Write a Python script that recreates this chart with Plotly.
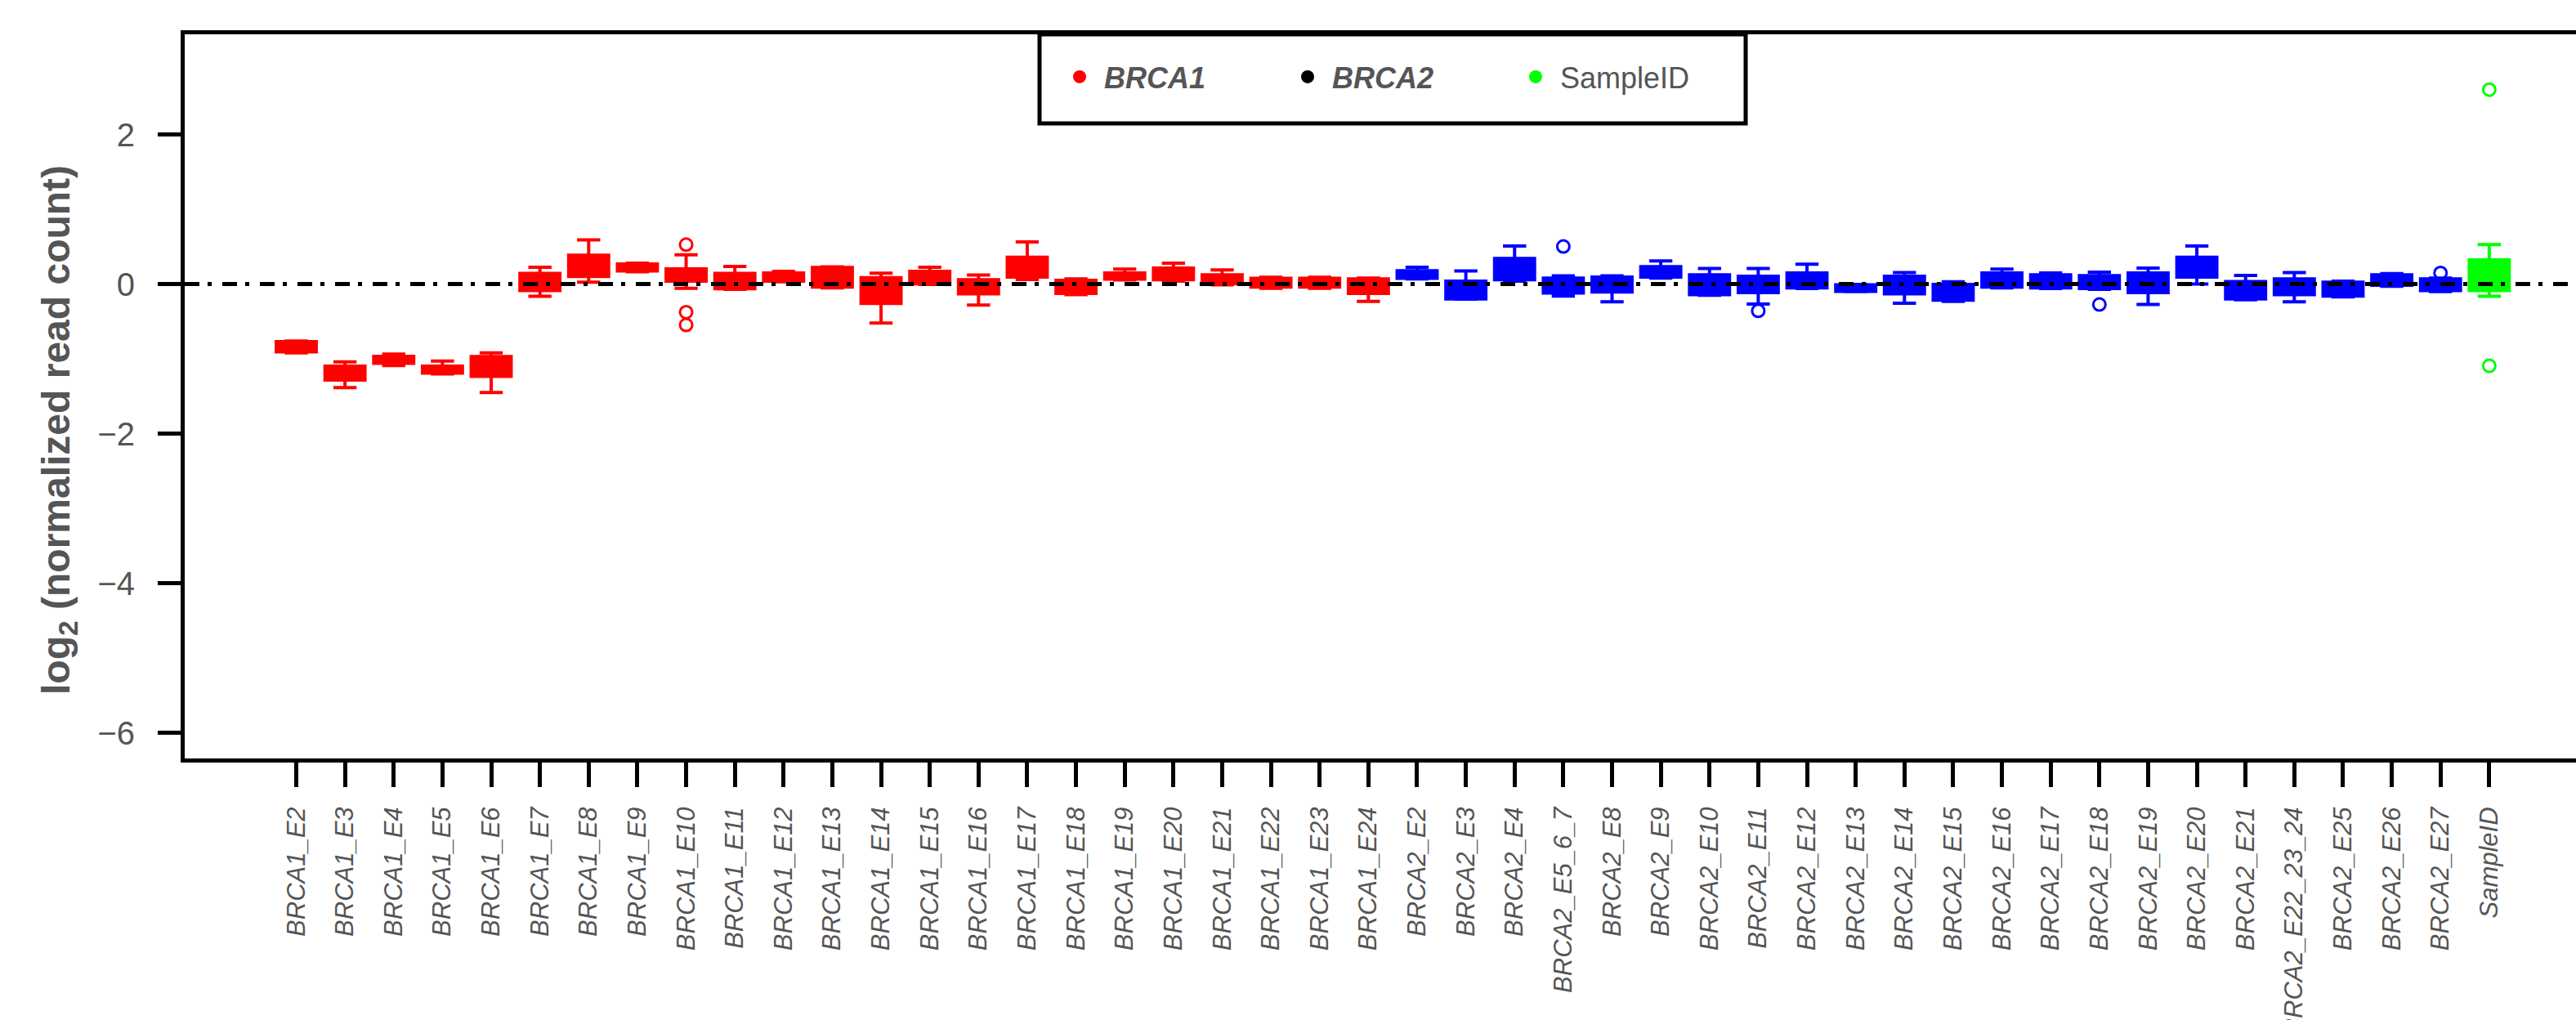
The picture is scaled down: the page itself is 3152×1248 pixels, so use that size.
import plotly.graph_objects as go

# ---------------- data ----------------
brca1_cats = ["BRCA1_E2", "BRCA1_E3", "BRCA1_E4", "BRCA1_E5", "BRCA1_E6", "BRCA1_E7",
              "BRCA1_E8", "BRCA1_E9", "BRCA1_E10", "BRCA1_E11", "BRCA1_E12", "BRCA1_E13",
              "BRCA1_E14", "BRCA1_E15", "BRCA1_E16", "BRCA1_E17", "BRCA1_E18", "BRCA1_E19",
              "BRCA1_E20", "BRCA1_E21", "BRCA1_E22", "BRCA1_E23", "BRCA1_E24"]
brca1_lf = [-0.92, -1.384, -1.09, -1.20, -1.45, -0.164, 0.026, 0.165, -0.055, -0.07, 0.03, -0.05,
            -0.521, -0.005, -0.28, 0.06, -0.14, 0.055, 0.04, -0.01, -0.055, -0.055, -0.23]
brca1_q1 = [-0.907, -1.282, -1.06, -1.19, -1.235, -0.087, 0.102, 0.175, 0.04, -0.062, 0.04, -0.04,
            -0.259, 0.004, -0.131, 0.095, -0.124, 0.066, 0.058, 0.004, -0.04, -0.04, -0.124]
brca1_med = [-0.84, -1.20, -1.01, -1.14, -1.10, 0.03, 0.25, 0.22, 0.12, 0.05, 0.09, 0.08,
             -0.10, 0.09, -0.04, 0.22, -0.03, 0.11, 0.14, 0.06, 0.02, 0.02, -0.03]
brca1_q3 = [-0.769, -1.097, -0.965, -1.097, -0.969, 0.142, 0.386, 0.27, 0.204, 0.142, 0.149, 0.222,
            0.087, 0.171, 0.058, 0.36, 0.051, 0.149, 0.215, 0.124, 0.077, 0.077, 0.069]
brca1_uf = [-0.76, -1.04, -0.935, -1.03, -0.92, 0.226, 0.59, 0.28, 0.393, 0.237, 0.17, 0.23,
            0.146, 0.226, 0.12, 0.565, 0.07, 0.20, 0.28, 0.19, 0.09, 0.09, 0.08]
brca1_out_x = ["BRCA1_E10", "BRCA1_E10", "BRCA1_E10"]
brca1_out_y = [0.528, -0.375, -0.546]

brca2_cats = ["BRCA2_E2", "BRCA2_E3", "BRCA2_E4", "BRCA2_E5_6_7", "BRCA2_E8", "BRCA2_E9",
              "BRCA2_E10", "BRCA2_E11", "BRCA2_E12", "BRCA2_E13", "BRCA2_E14", "BRCA2_E15",
              "BRCA2_E16", "BRCA2_E17", "BRCA2_E18", "BRCA2_E19", "BRCA2_E20", "BRCA2_E21",
              "BRCA2_E22_23_24", "BRCA2_E25", "BRCA2_E26", "BRCA2_E27"]
brca2_lf = [0.07, -0.20, 0.04, -0.16, -0.237, 0.08, -0.15, -0.266, -0.06, -0.10, -0.255,
            -0.23, -0.05, -0.06, -0.07, -0.273, 0.0, -0.21, -0.237, -0.17, -0.03, -0.10]
brca2_q1 = [0.077, -0.197, 0.058, -0.12, -0.106, 0.095, -0.142, -0.113, -0.051, -0.098, -0.131,
            -0.215, -0.04, -0.051, -0.058, -0.113, 0.095, -0.197, -0.142, -0.16, -0.015, -0.087]
brca2_med = [0.13, -0.05, 0.18, -0.02, 0.0, 0.16, 0.0, 0.0, 0.05, -0.05, -0.01,
             -0.10, 0.07, 0.05, 0.03, 0.02, 0.22, -0.07, -0.03, -0.07, 0.06, 0.0]
brca2_q3 = [0.179, 0.04, 0.342, 0.08, 0.095, 0.233, 0.124, 0.106, 0.149, -0.011, 0.106,
            -0.004, 0.149, 0.124, 0.113, 0.149, 0.36, 0.033, 0.069, 0.026, 0.124, 0.069]
brca2_uf = [0.226, 0.175, 0.51, 0.11, 0.11, 0.31, 0.208, 0.208, 0.266, -0.005, 0.153,
            0.03, 0.20, 0.15, 0.16, 0.215, 0.51, 0.117, 0.153, 0.04, 0.14, 0.08]
brca2_out_x = ["BRCA2_E5_6_7", "BRCA2_E11", "BRCA2_E18", "BRCA2_E27"]
brca2_out_y = [0.503, -0.357, -0.273, 0.15]

sample_cats = ["SampleID"]
sample_lf = [-0.164]
sample_q1 = [-0.087]
sample_med = [0.10]
sample_q3 = [0.324]
sample_uf = [0.528]
sample_out_x = ["SampleID", "SampleID"]
sample_out_y = [2.60, -1.093]

y_ticks = [-6, -4, -2, 0, 2]
legend_names = ["\u00a0<b><i>BRCA1</i></b>", "\u00a0<b><i>BRCA2</i></b>", "\u00a0SampleID"]

# ---------------- styling ----------------
RED, BLUE, GREEN = "#FF0000", "#0000FF", "#00FF00"
LEGEND_COLORS = [RED, "#000000", GREEN]
FONT = "Liberation Sans, Arial, sans-serif"
GREY = "#555555"

all_cats = brca1_cats + brca2_cats + sample_cats

fig = go.Figure()

def add_group(cats, lf, q1, med, q3, uf, ox, oy, color):
    fig.add_trace(go.Box(
        x=cats, lowerfence=lf, q1=q1, median=med, q3=q3, upperfence=uf,
        fillcolor=color, line=dict(color=color, width=4),
        width=0.82, whiskerwidth=0.58, boxpoints=False, showlegend=False,
    ))
    fig.add_trace(go.Scatter(
        x=ox, y=oy, mode="markers", showlegend=False,
        marker=dict(symbol="circle-open", size=15, color=color, line=dict(width=3, color=color)),
    ))

add_group(brca1_cats, brca1_lf, brca1_q1, brca1_med, brca1_q3, brca1_uf, brca1_out_x, brca1_out_y, RED)
add_group(brca2_cats, brca2_lf, brca2_q1, brca2_med, brca2_q3, brca2_uf, brca2_out_x, brca2_out_y, BLUE)
add_group(sample_cats, sample_lf, sample_q1, sample_med, sample_q3, sample_uf, sample_out_x, sample_out_y, GREEN)

# legend entries (dots)
for name, col in zip(legend_names, LEGEND_COLORS):
    fig.add_trace(go.Scatter(x=[None], y=[None], mode="markers", name=name,
                             marker=dict(symbol="circle", size=16, color=col)))

W, H = 3152, 1248
L, R, T, B = 226, 0, 42, 320
pw, ph = W - L - R, H - T - B

def px2paper_x(px):
    return (px - L) / pw

def px2paper_y(py):
    return (H - B - py) / ph

fig.update_layout(
    width=W, height=H,
    margin=dict(l=L, r=R, t=T, b=B, pad=0, autoexpand=False),
    paper_bgcolor="white", plot_bgcolor="white",
    boxmode="overlay",
    font=dict(family=FONT, color=GREY),
    showlegend=True,
    legend=dict(
        orientation="h", x=px2paper_x(1301), xanchor="left",
        y=px2paper_y(94), yanchor="middle",
        bgcolor="rgba(0,0,0,0)", borderwidth=0,
        entrywidth=234, entrywidthmode="pixels",
        font=dict(family=FONT, size=36, color=GREY),
        itemclick=False, itemdoubleclick=False,
    ),
    xaxis=dict(
        type="category", categoryorder="array", categoryarray=all_cats,
        range=[(226 - 362.5) / 59.63, (3152 - 362.5) / 59.63],
        showline=True, linewidth=5, linecolor="black", mirror=True,
        ticks="outside", ticklen=30, tickwidth=5, tickcolor="black",
        tickangle=-90, showgrid=False, zeroline=False, automargin=False,
        tickfont=dict(family=FONT, size=31, color=GREY, style="italic"),
        ticklabelstandoff=12,
    ),
    yaxis=dict(
        range=[(347.6 - 928) / 91.5, (347.6 - 42) / 91.5],
        tickvals=y_ticks, automargin=False,
        showline=True, linewidth=5, linecolor="black", mirror=False,
        ticks="outside", ticklen=28, tickwidth=5, tickcolor="black",
        showgrid=False, zeroline=False,
        tickfont=dict(family=FONT, size=40, color=GREY),
        ticklabelstandoff=20,
    ),
    shapes=[
        dict(type="line", xref="paper", yref="y", x0=0, x1=1, y0=0, y1=0,
             line=dict(color="black", width=5, dash="18px,10px,5px,13px"), layer="above"),
        dict(type="rect", xref="paper", yref="paper",
             x0=px2paper_x(1272), x1=px2paper_x(2136), y0=px2paper_y(151), y1=1.0,
             line=dict(color="black", width=5), fillcolor="rgba(0,0,0,0)", layer="above"),
    ],
    annotations=[
        dict(text="<b>log<sub>2</sub> (normalized read count)</b>", textangle=-90,
             xref="paper", yref="paper", x=px2paper_x(72), y=px2paper_y(526),
             xanchor="center", yanchor="middle", showarrow=False,
             font=dict(family=FONT, size=48, color=GREY)),
    ],
)

fig.write_html("out.html", config={"displayModeBar": False},
               post_script="document.body.style.margin='0';document.body.style.overflow='hidden';")
